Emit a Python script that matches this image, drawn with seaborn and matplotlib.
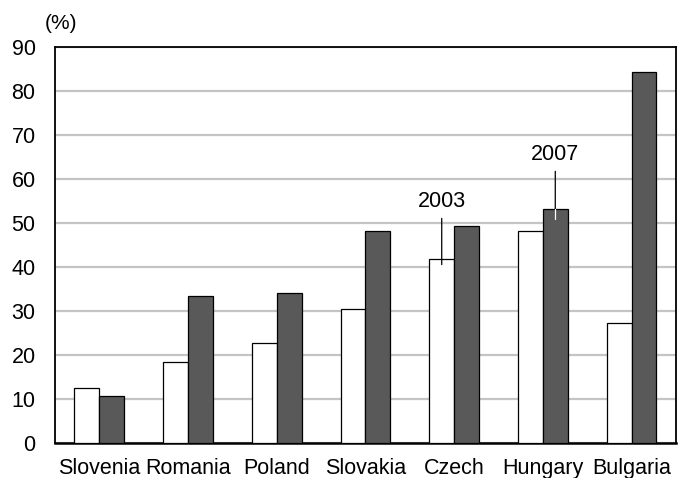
import pandas as pd
import matplotlib.pyplot as plt
import seaborn as sns
from matplotlib.ticker import MultipleLocator, FixedLocator

countries = ['Slovenia', 'Romania', 'Poland', 'Slovakia', 'Czech', 'Hungary', 'Bulgaria']
share_2003 = [12.4, 18.3, 22.7, 30.4, 41.8, 48.1, 27.2]
share_2007 = [10.7, 33.4, 34.0, 48.1, 49.4, 53.1, 84.2]
years = ['2003', '2007']

df = pd.DataFrame({
    'country': countries * 2,
    'year': [years[0]] * len(countries) + [years[1]] * len(countries),
    'value': share_2003 + share_2007,
})

sns.set_style('white')
plt.rcParams.update({
    'font.family': ['Liberation Sans', 'DejaVu Sans'],
    'font.size': 15.5,
    'text.color': 'black',
    'xtick.color': 'black',
    'ytick.color': 'black',
    'xtick.labelcolor': 'black',
    'ytick.labelcolor': 'black',
})

fig = plt.figure(figsize=(6.89, 4.78), dpi=100)
ax = fig.add_axes([0.0798, 0.0738, 0.9012, 0.8279])

sns.barplot(data=df, x='country', y='value', hue='year', order=countries,
            hue_order=years, palette=['white', '#595959'], width=0.56, gap=0,
            edgecolor='black', linewidth=0.9, legend=False, ax=ax, zorder=3)

ax.set_ylim(0, 90)
ax.set_xlim(-0.5, len(countries) - 0.5)
ax.yaxis.set_major_locator(MultipleLocator(10))
ax.grid(axis='y', color='#c4c4c4', linewidth=1.6, zorder=0)
ax.set_axisbelow(True)

for side in ['left', 'right', 'top', 'bottom']:
    ax.spines[side].set_visible(True)
    ax.spines[side].set_color('black')
    ax.spines[side].set_linewidth(1.3)
ax.spines['bottom'].set_linewidth(1.8)

ax.tick_params(axis='y', direction='in', length=5, width=1, labelsize=15.5, pad=14)
ax.tick_params(axis='x', which='major', length=0, labelsize=15.5, pad=11)
ax.xaxis.set_minor_locator(FixedLocator([i + 0.5 for i in range(len(countries) - 1)]))
ax.tick_params(axis='x', which='minor', direction='in', length=4, width=1)
ax.set_xlabel('')
ax.set_ylabel('')

ax.text(-0.017, 1.035, '(%)', transform=ax.transAxes, ha='left', va='bottom', fontsize=15)

# year callouts
n = len(countries)
bar03 = ax.patches[countries.index('Czech')]
bar07 = ax.patches[n + countries.index('Hungary')]

x03 = bar03.get_x() + bar03.get_width() * 0.5
h03 = bar03.get_height()
ax.annotate('2003', xy=(x03, h03 - 1.3), xytext=(x03, h03 + 10.6),
            ha='center', va='bottom', fontsize=15.5,
            arrowprops=dict(arrowstyle='-', color='black', lw=0.9, shrinkA=2, shrinkB=0),
            zorder=5)

x07 = bar07.get_x() + bar07.get_width() * 0.5
h07 = bar07.get_height()
ax.annotate('2007', xy=(x07, h07), xytext=(x07, h07 + 10.0),
            ha='center', va='bottom', fontsize=15.5,
            arrowprops=dict(arrowstyle='-', color='black', lw=0.9, shrinkA=2, shrinkB=0),
            zorder=5)
ax.plot([x07, x07], [h07, h07 - 2.3], color='white', lw=0.9, zorder=5)

fig.savefig('out.png', dpi=100)
